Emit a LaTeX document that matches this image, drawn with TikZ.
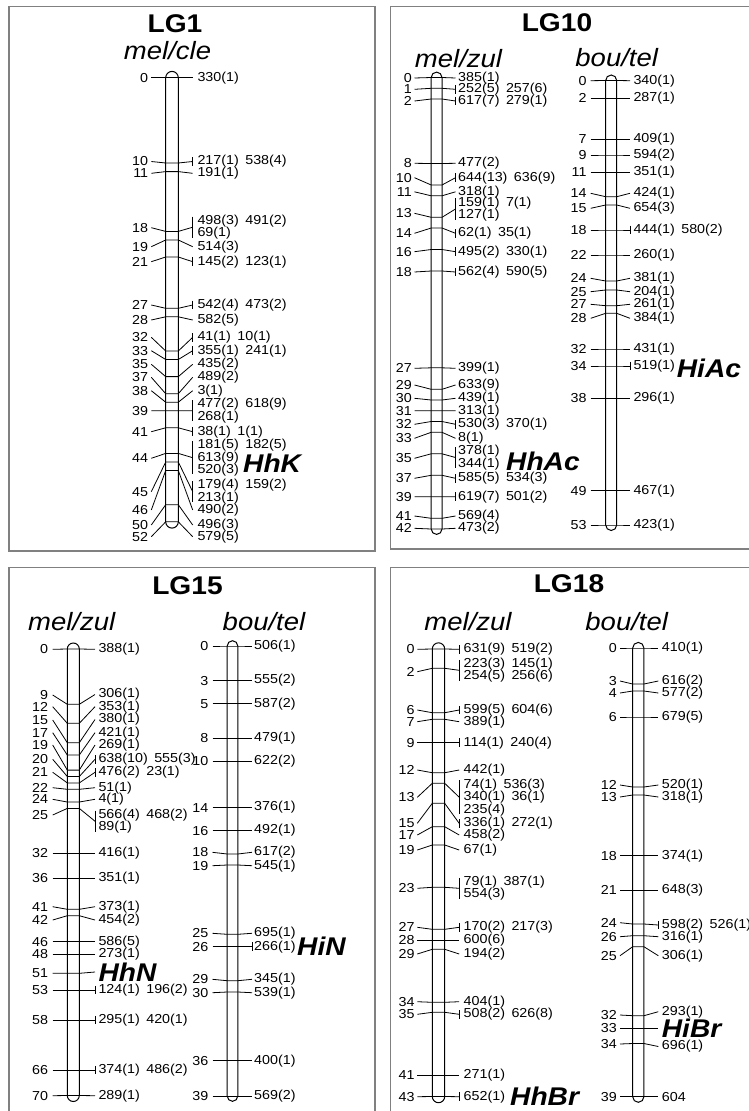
\documentclass[tikz,border=0pt]{standalone}
\usepackage{fontspec}
\setmainfont{Liberation Sans}[FakeStretch=1.1]

\newcommand\qtlf{\fontsize{25.6}{26}\selectfont\bfseries\itshape}

\tikzset{
  panel/.style={draw=black!50, line width=1.2pt},
  chrbar/.style={draw, line width=1pt},
  conn/.style={line width=0.8pt},
  poslabel/.style={anchor=east, inner sep=0pt, font=\fontsize{13}{12.5}\selectfont},
  mrklabel/.style={anchor=west, inner sep=0pt, align=left, font=\fontsize{13}{12.5}\selectfont},
  lgtitle/.style={font=\fontsize{25.6}{26}\selectfont\bfseries},
  popname/.style={font=\fontsize{25}{26}\selectfont\itshape},
  qtlname/.style={anchor=west, inner sep=0pt, font=\qtlf},
}

% xc, half width, first and last position
\newcommand\chromo[4]{%
  \draw[chrbar, rounded corners=#2pt] (#1-#2,#3-#2) rectangle (#1+#2,#4+#2);}

% prefix, label x (left), gap, bar left, bar right, label x (right), gap, markers
\newcommand\markers[8]{%
  \foreach \yb/\pc/\yl/\tx/\yr/\tk in {#8}{%
    \coordinate (#1a\pc) at (#4,\yb);
    \coordinate (#1b\pc) at (#5,\yb);
    \node[poslabel] (#1l\pc) at (#2,\yl) {\pc};
    \node[mrklabel] (#1r\pc) at (#6,\yr) {\tx};
    \draw[conn] ([xshift=#3pt]#1l\pc.east) -- (#1a\pc) -- (#1b\pc) -- ([xshift=-#7pt]#1r\pc.west);
    \ifnum\tk=1
      \draw[conn] ([xshift=-#7pt,yshift=-2pt]#1r\pc.north west) -- ([xshift=-#7pt,yshift=2pt]#1r\pc.south west);
    \fi
  }}

\begin{document}
\begin{tikzpicture}[x=1pt, y=-1pt]
  \useasboundingbox (0,0) rectangle (749,1111);

  \draw[panel] (9,6.5) rectangle (375,551);
  \draw[panel] (760,6.5) -- (390.5,6.5) -- (390.5,549) -- (760,549);
  \draw[panel] (9,1120) -- (9,567.3) -- (375,567.3) -- (375,1120);
  \draw[panel] (390.5,1120) -- (390.5,567.3) -- (760,567.3);

  % LG1
  \node[lgtitle] (lg1) at (175,23.3) {LG1};
  \node[popname] (melcle) at (167.5,51) {mel/cle};
  \chromo{172}{6.3}{77.7}{521.8}
  \markers{A}{148.3}{3}{165.7}{178.3}{197.3}{4.6}{
    77.7/0/77.7/{330(1)}/77.7/0,
    163/10/161.5/{217(1)\enspace 538(4)}/161.5/1,
    171.6/11/173.3/{191(1)}/173.3/0,
    231.4/18/227.7/{498(3)\enspace 491(2)\\69(1)}/227.2/1,
    240/19/246.7/{514(3)}/246.7/0,
    257/21/261.7/{145(2)\enspace 123(1)}/261.7/1,
    308.3/27/305/{542(4)\enspace 473(2)}/305/1,
    316.8/28/320/{582(5)}/320/0,
    351/32/337.3/{41(1)\enspace 10(1)}/337.3/1,
    359.5/33/350.7/{355(1)\enspace 241(1)}/350.7/1,
    376.6/35/364.3/{435(2)}/364.3/0,
    393.7/37/377.3/{489(2)}/377.3/0,
    402.2/38/390.7/{3(1)}/390.7/0,
    410.8/39/410.7/{477(2)\enspace 618(9)\\268(1)}/410.8/1,
    427.8/41/431.7/{38(1)\enspace 1(1)}/431.7/1,
    453.4/44/458.3/{181(5)\enspace 182(5)\\613(9)\\520(3)}/457.7/1,
    462/45/491.7/{179(4)\enspace 159(2)\\213(1)}/491.7/1,
    470.5/46/510/{490(2)}/510/0,
    504.7/50/525/{496(3)}/525/0,
    521.8/52/536.7/{579(5)}/536.7/0}
  \node[qtlname] (hhk) at (243,463.3) {HhK};

  % LG10
  \node[lgtitle] (lg10) at (557,23) {LG10};
  \node[popname] (melzulA) at (458.5,58.5) {mel/zul};
  \node[popname] (boutelA) at (616.7,57.5) {bou/tel};
  \chromo{436.6}{5.4}{77.5}{529}
  \markers{B}{412}{2.5}{431.2}{442}{458}{2.5}{
    77.5/0/78/{385(1)}/78/0,
    88.3/1/89.3/{252(5)\enspace 257(6)}/89.3/1,
    99/2/101/{617(7)\enspace 279(1)}/101/1,
    163.5/8/163.3/{477(2)}/163.3/0,
    185/10/177.7/{644(13)\enspace 636(9)}/177.7/1,
    195.8/11/191.8/{318(1)}/191.8/0,
    217.3/13/213.3/{159(1)\enspace 7(1)\\127(1)}/209/1,
    228/14/233.3/{62(1)\enspace 35(1)}/233.3/1,
    249.5/16/251.7/{495(2)\enspace 330(1)}/251.7/1,
    271/18/272/{562(4)\enspace 590(5)}/272/1,
    367.8/27/368.3/{399(1)}/368.3/0,
    389.3/29/385/{633(9)}/385/0,
    400/30/398.3/{439(1)}/398.3/0,
    410.8/31/410.7/{313(1)}/410.7/0,
    421.5/32/424.3/{530(3)\enspace 370(1)}/424.3/1,
    432.3/33/438.3/{8(1)}/438.3/0,
    453.8/35/458.3/{378(1)\\344(1)}/457.5/1,
    475.3/37/478.3/{585(5)\enspace 534(3)}/478.3/1,
    496.8/39/496.7/{619(7)\enspace 501(2)}/496.7/1,
    518.3/41/516/{569(4)}/516/0,
    529/42/528.3/{473(2)}/528.3/0}
  \node[qtlname] (hhac) at (506,461.7) {HhAc};
  \chromo{611.2}{5.5}{80.5}{525}
  \markers{C}{586.7}{4}{605.7}{616.7}{633.3}{3.3}{
    80.5/0/80.7/{340(1)}/80.7/0,
    98.3/2/98.3/{287(1)}/98.3/0,
    139.3/7/139.3/{409(1)}/139.3/0,
    155/9/155/{594(2)}/155/0,
    172.3/11/172.3/{351(1)}/172.3/0,
    196.7/14/193.3/{424(1)}/193.3/0,
    205/15/208.3/{654(3)}/208.3/0,
    230/18/230/{444(1)\enspace 580(2)}/230/1,
    255/22/255/{260(1)}/255/0,
    281/24/278.3/{381(1)}/278.3/0,
    290/25/291.7/{204(1)}/291.7/0,
    305.7/27/304.3/{261(1)}/304.3/0,
    313.3/28/318.3/{384(1)}/318.3/0,
    349/32/349/{431(1)}/349/0,
    366/34/366/{519(1)}/366/1,
    398.3/38/398.3/{296(1)}/398.3/0,
    490.7/49/490.7/{467(1)}/490.7/0,
    525/53/525/{423(1)}/525/0}
  \node[qtlname] (hiac) at (676.7,368.3) {HiAc};

  % LG15
  \node[lgtitle] (lg15) at (187.5,586) {LG15};
  \node[popname] (melzulB) at (71.7,622) {mel/zul};
  \node[popname] (boutelB) at (264,622) {bou/tel};
  \chromo{73.3}{6}{649}{1095.5}
  \markers{D}{48.3}{4.4}{67.3}{79.3}{98.3}{3.3}{
    649/0/649.3/{388(1)}/649.3/0,
    704.3/9/695/{306(1)}/694.5/0,
    723.3/12/706.7/{353(1)}/706.7/0,
    742.7/15/720/{380(1)}/719.5/0,
    755/17/732.7/{421(1)}/732.7/0,
    770.1/19/745/{269(1)}/745/0,
    776.5/20/759.3/{638(10)\enspace 555(3)}/759.3/1,
    782.9/21/772.3/{476(2)\enspace 23(1)}/772.3/1,
    789.3/22/787.7/{51(1)}/787.7/0,
    802/24/799.3/{4(1)}/799.3/0,
    808.4/25/815/{566(4)\enspace 468(2)\\89(1)}/821.2/1,
    853.3/32/853.3/{416(1)}/853.3/0,
    878.3/36/878.3/{351(1)}/878.3/0,
    909.3/41/906.7/{373(1)}/906.7/0,
    915.7/42/920/{454(2)}/920/0,
    941.7/46/941.7/{586(5)}/941.7/0,
    954.3/48/954.3/{273(1)}/954.3/0,
    973.3/51/973.3/{\qtlf HhN}/972/0,
    990/53/990/{124(1)\enspace 196(2)}/990/1,
    1020/58/1020/{295(1)\enspace 420(1)}/1020/1,
    1070/66/1070/{374(1)\enspace 486(2)}/1070/1,
    1095.5/70/1095.7/{289(1)}/1095.7/0}
  \chromo{232.5}{5.3}{646}{1096}
  \markers{E}{208.5}{4}{227.2}{237.8}{254}{2}{
    646/0/646/{506(1)}/646/0,
    680.6/3/680.6/{555(2)}/680.6/0,
    703.7/5/703.7/{587(2)}/703.7/0,
    738.3/8/738.3/{479(1)}/738.3/0,
    761.4/10/761.4/{622(2)}/761.4/0,
    807.6/14/807.6/{376(1)}/807.6/0,
    830.6/16/830.6/{492(1)}/830.6/0,
    854/18/852.3/{617(2)}/852.3/0,
    865/19/865.7/{545(1)}/865.7/0,
    934.3/25/933.3/{695(1)}/933.3/0,
    946.7/26/946.7/{266(1)}/946.7/1,
    980.7/29/979.3/{345(1)}/979.3/0,
    992/30/992.7/{539(1)}/992.7/0,
    1060.7/36/1060.7/{400(1)}/1060.7/0,
    1096/39/1096/{569(2)}/1096/0}
  \node[qtlname] (hin) at (297,946.7) {HiN};

  % LG18
  \node[lgtitle] (lg18) at (569,584) {LG18};
  \node[popname] (melzulC) at (468,622) {mel/zul};
  \node[popname] (boutelC) at (626.7,622) {bou/tel};
  \chromo{438.5}{6.2}{649}{1096.5}
  \markers{F}{414.7}{2.6}{432.3}{444.7}{463.5}{4.3}{
    649/0/649.3/{631(9)\enspace 519(2)}/649.3/1,
    668.3/2/671.7/{223(3)\enspace 145(1)\\254(5)\enspace 256(6)}/670.3/1,
    712.7/6/710/{599(5)\enspace 604(6)}/710/1,
    719.3/7/721.7/{389(1)}/721.7/0,
    742.7/9/742.7/{114(1)\enspace 240(4)}/742.7/1,
    772.7/12/770/{442(1)}/770/0,
    783.3/13/797.3/{74(1)\enspace 536(3)\\340(1)\enspace 36(1)\\235(4)}/797.2/1,
    803.3/15/823.3/{336(1)\enspace 272(1)}/823.3/1,
    826.7/17/835/{458(2)}/835/0,
    845/19/850/{67(1)}/850/0,
    887.3/23/888.3/{79(1)\enspace 387(1)\\554(3)}/888.3/1,
    929.3/27/927.3/{170(2)\enspace 217(3)}/927.3/1,
    940/28/940/{600(6)}/940/0,
    949.3/29/954/{194(2)}/954/0,
    1002.3/34/1001.7/{404(1)}/1001.7/0,
    1012.3/35/1014.3/{508(2)\enspace 626(8)}/1014.3/1,
    1075.3/41/1075.3/{271(1)}/1075.3/0,
    1096.5/43/1096.7/{652(1)}/1096.7/1}
  \node[qtlname] (hhbr) at (510,1096.7) {HhBr};
  \chromo{638.3}{5.6}{648}{1096.7}
  \markers{G}{617}{3}{632.7}{643.9}{661.7}{3.4}{
    648/0/648/{410(1)}/648/0,
    684/3/681/{616(2)}/681/0,
    691/4/693/{577(2)}/693/0,
    717/6/717/{679(5)}/717/0,
    787/12/785/{520(1)}/785/0,
    795/13/797/{318(1)}/797/0,
    855.7/18/855.7/{374(1)}/855.7/0,
    890/21/890/{648(3)}/890/0,
    924/24/922.7/{598(2)\enspace 526(1)}/925/1,
    935.7/26/936.7/{316(1)}/936.7/0,
    946.7/25/955.7/{306(1)}/955.7/0,
    1015.7/32/1015/{293(1)}/1011.7/0,
    1028.3/33/1028.3/{\qtlf HiBr}/1028.3/0,
    1043.5/34/1044/{696(1)}/1046.5/0,
    1096.7/39/1096.7/{604}/1096.7/0}
\end{tikzpicture}
\end{document}
